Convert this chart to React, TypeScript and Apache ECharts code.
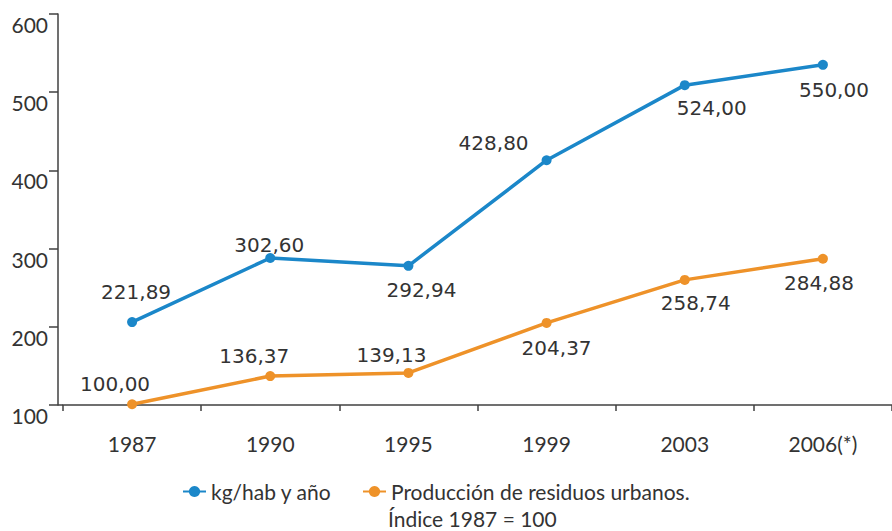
import React, { useEffect, useRef } from "react";
import * as echarts from "echarts";

const categories = ["1987", "1990", "1995", "1999", "2003", "2006(*)"];
// plotted positions
const kgValues = [206, 288, 278, 413, 509, 535];
const kgLabels = ["221,89", "302,60", "292,94", "428,80", "524,00", "550,00"];
const indexValues = [101, 137, 141, 205, 260, 287];
const indexLabels = ["100,00", "136,37", "139,13", "204,37", "258,74", "284,88"];
const yTicks = [100, 200, 300, 400, 500, 600];

const kgName = "kg/hab y año";
const indexName = "Producción de residuos urbanos.";
const indexNote = "Índice 1987 = 100";

// label offsets (style only)
const kgOffsets = [[4, -30], [-1, -13], [13, 24], [-53, -17], [27, 23], [11, 25]];
const indexOffsets = [[-17, -20], [-16, -20], [-17, -18], [10, 25], [11, 23], [-4, 24]];

const BLUE = "#1b87c9";
const ORANGE = "#ee9229";
const TEXT = "#333333";
const AXIS = "#404040";
const AXIS_FONT = "Lato";
const LABEL_FONT = "DejaVu Sans";

function buildData(values: number[], labels: string[], offsets: number[][]) {
  return values.map((v, i) => ({
    value: v,
    label: {
      show: true,
      position: "inside",
      offset: offsets[i],
      formatter: labels[i],
      color: TEXT,
      fontFamily: LABEL_FONT,
      fontSize: 20,
    },
  }));
}

export default function App() {
  const ref = useRef<HTMLDivElement>(null);
  useEffect(() => {
    if (!ref.current) return;
    const chart = echarts.init(ref.current, undefined, { renderer: "svg" });
    chart.setOption({
      animation: false,
      backgroundColor: "#ffffff",
      grid: { left: 63, right: -11, top: 14, bottom: 126, containLabel: false },
      legend: [
        {
          data: [kgName],
          left: 182,
          top: 481,
          padding: 0,
          itemWidth: 23,
          itemHeight: 14,
          textStyle: { color: TEXT, fontFamily: AXIS_FONT, fontSize: 21 },
        },
        {
          data: [indexName],
          left: 362,
          top: 481,
          padding: 0,
          itemWidth: 23,
          itemHeight: 14,
          textStyle: { color: TEXT, fontFamily: AXIS_FONT, fontSize: 21 },
        },
      ],
      graphic: [
        {
          type: "line",
          shape: { x1: 58, y1: 405, x2: 63, y2: 405 },
          style: { stroke: AXIS, lineWidth: 1.5 },
        },
        {
          type: "text",
          left: 388,
          top: 508,
          style: { text: indexNote, fill: TEXT, font: `21px ${AXIS_FONT}` },
        },
      ],
      xAxis: {
        type: "category",
        data: categories,
        boundaryGap: true,
        axisLine: { show: true, lineStyle: { color: AXIS, width: 1.5 } },
        axisTick: { show: true, length: 6, lineStyle: { color: AXIS, width: 1.5 } },
        axisLabel: { color: TEXT, fontFamily: AXIS_FONT, fontSize: 21, margin: 28 },
        splitLine: { show: false },
      },
      yAxis: {
        type: "value",
        min: yTicks[0],
        max: yTicks[yTicks.length - 1],
        interval: 100,
        offset: 5,
        axisLine: { show: true, lineStyle: { color: AXIS, width: 1.5 } },
        axisTick: { show: true, length: 9, lineStyle: { color: AXIS, width: 1.5 } },
        axisLabel: {
          color: TEXT,
          fontFamily: AXIS_FONT,
          fontSize: 21,
          margin: 10,
          verticalAlign: "top",
        },
        splitLine: { show: false },
      },
      series: [
        {
          name: kgName,
          type: "line",
          data: buildData(kgValues, kgLabels, kgOffsets),
          symbol: "circle",
          symbolSize: 10,
          itemStyle: { color: BLUE },
          lineStyle: { color: BLUE, width: 3.5 },
        },
        {
          name: indexName,
          type: "line",
          data: buildData(indexValues, indexLabels, indexOffsets),
          symbol: "circle",
          symbolSize: 10,
          itemStyle: { color: ORANGE },
          lineStyle: { color: ORANGE, width: 3.5 },
        },
      ],
    });
    return () => chart.dispose();
  }, []);
  return <div ref={ref} style={{ width: 892, height: 531, position: "absolute", left: 0, top: 0 }} />;
}
